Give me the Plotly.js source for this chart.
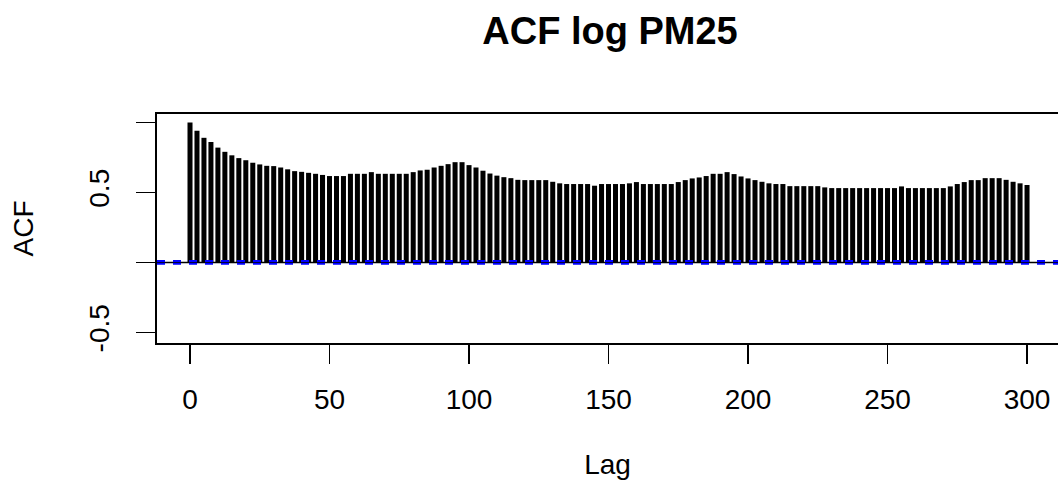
<!DOCTYPE html>
<html>
<head>
<meta charset="utf-8">
<script src="https://cdn.plot.ly/plotly-3.0.1.min.js"></script>
<style>html,body{margin:0;padding:0;background:#fff;}#chart{width:1058px;height:497px;}</style>
</head>
<body>
<div id="chart"></div>
<script>
// Lags (step 2.5) and ACF values
const lags = [];
for (let k = 0; k <= 120; k++) lags.push(k * 2.5);
const acfValues = [
  1.000, 0.940, 0.890, 0.860, 0.820, 0.790, 0.765, 0.745, 0.730, 0.712,
  0.700, 0.690, 0.688, 0.678, 0.665, 0.652, 0.647, 0.640, 0.633, 0.625,
  0.617, 0.617, 0.617, 0.633, 0.633, 0.633, 0.645, 0.633, 0.633, 0.633,
  0.633, 0.633, 0.645, 0.657, 0.662, 0.678, 0.690, 0.702, 0.716, 0.716,
  0.695, 0.678, 0.655, 0.635, 0.620, 0.609, 0.602, 0.590, 0.588, 0.588,
  0.588, 0.588, 0.576, 0.565, 0.560, 0.560, 0.560, 0.560, 0.548, 0.560,
  0.560, 0.560, 0.560, 0.565, 0.574, 0.560, 0.560, 0.560, 0.560, 0.560,
  0.574, 0.588, 0.600, 0.607, 0.617, 0.633, 0.633, 0.645, 0.631, 0.614,
  0.600, 0.588, 0.576, 0.565, 0.560, 0.560, 0.545, 0.545, 0.545, 0.545,
  0.545, 0.536, 0.531, 0.531, 0.531, 0.531, 0.531, 0.531, 0.531, 0.531,
  0.531, 0.531, 0.543, 0.531, 0.531, 0.531, 0.531, 0.531, 0.531, 0.543,
  0.560, 0.574, 0.588, 0.588, 0.602, 0.602, 0.602, 0.590, 0.576, 0.565,
  0.553
];
const confLimit = 0.010;
const xTickVals = [0, 50, 100, 150, 200, 250, 300];
const xTickText = ['0', '50', '100', '150', '200', '250', '300'];
const yTickVals = [-0.5, 0, 0.5, 1];
const yTickText = ['-0.5', '', '0.5', ''];

const font = 'Liberation Sans, Arial, sans-serif';

const trace = {
  type: 'bar',
  x: lags,
  y: acfValues,
  width: 1.8,
  marker: {color: '#000000', line: {width: 0}},
  hoverinfo: 'x+y'
};

const layout = {
  width: 1058, height: 497,
  margin: {l: 157, r: 0, t: 114, b: 154, pad: 0},
  paper_bgcolor: '#ffffff', plot_bgcolor: '#ffffff',
  showlegend: false,
  font: {family: font, color: '#000', size: 28},
  title: {
    text: '<b>ACF log PM25</b>',
    font: {family: font, size: 38, color: '#000'},
    xref: 'container', yref: 'container',
    x: 610 / 1058, xanchor: 'center',
    y: 1 - 31 / 497, yanchor: 'middle'
  },
  xaxis: {
    range: [-11.83, 311.1],
    showgrid: false, zeroline: false,
    showline: true, mirror: true, linecolor: '#000', linewidth: 1.6,
    ticks: 'outside', ticklen: 19, tickwidth: 1.5, tickcolor: '#000',
    tickmode: 'array', tickvals: xTickVals, ticktext: xTickText,
    tickfont: {family: font, size: 28, color: '#000'},
    ticklabelstandoff: 12,
    title: {text: 'Lag', font: {family: font, size: 28, color: '#000'}, standoff: 40}
  },
  yaxis: {
    range: [-0.575, 1.06],
    showgrid: false, zeroline: false,
    showline: true, mirror: false, linecolor: '#000', linewidth: 1.6,
    ticks: 'outside', ticklen: 19, tickwidth: 1.5, tickcolor: '#000',
    tickmode: 'array', tickvals: yTickVals, ticktext: yTickText,
    tickangle: -90,
    tickfont: {family: font, size: 28, color: '#000'},
    ticklabelstandoff: 16,
    title: {text: 'ACF', font: {family: font, size: 28, color: '#000'}, standoff: 42}
  },
  shapes: [
    {type: 'line', xref: 'paper', x0: 0, x1: 1, yref: 'y', y0: 0, y1: 0,
     line: {color: '#000', width: 1.5}},
    {type: 'line', xref: 'paper', x0: 0, x1: 1, yref: 'y', y0: confLimit, y1: confLimit,
     line: {color: '#0000FF', width: 2, dash: '8px,8px'}},
    {type: 'line', xref: 'paper', x0: 0, x1: 1, yref: 'y', y0: -confLimit, y1: -confLimit,
     line: {color: '#0000FF', width: 2, dash: '8px,8px'}}
  ]
};

Plotly.newPlot('chart', [trace], layout, {displayModeBar: false, staticPlot: true});
</script>
</body>
</html>
